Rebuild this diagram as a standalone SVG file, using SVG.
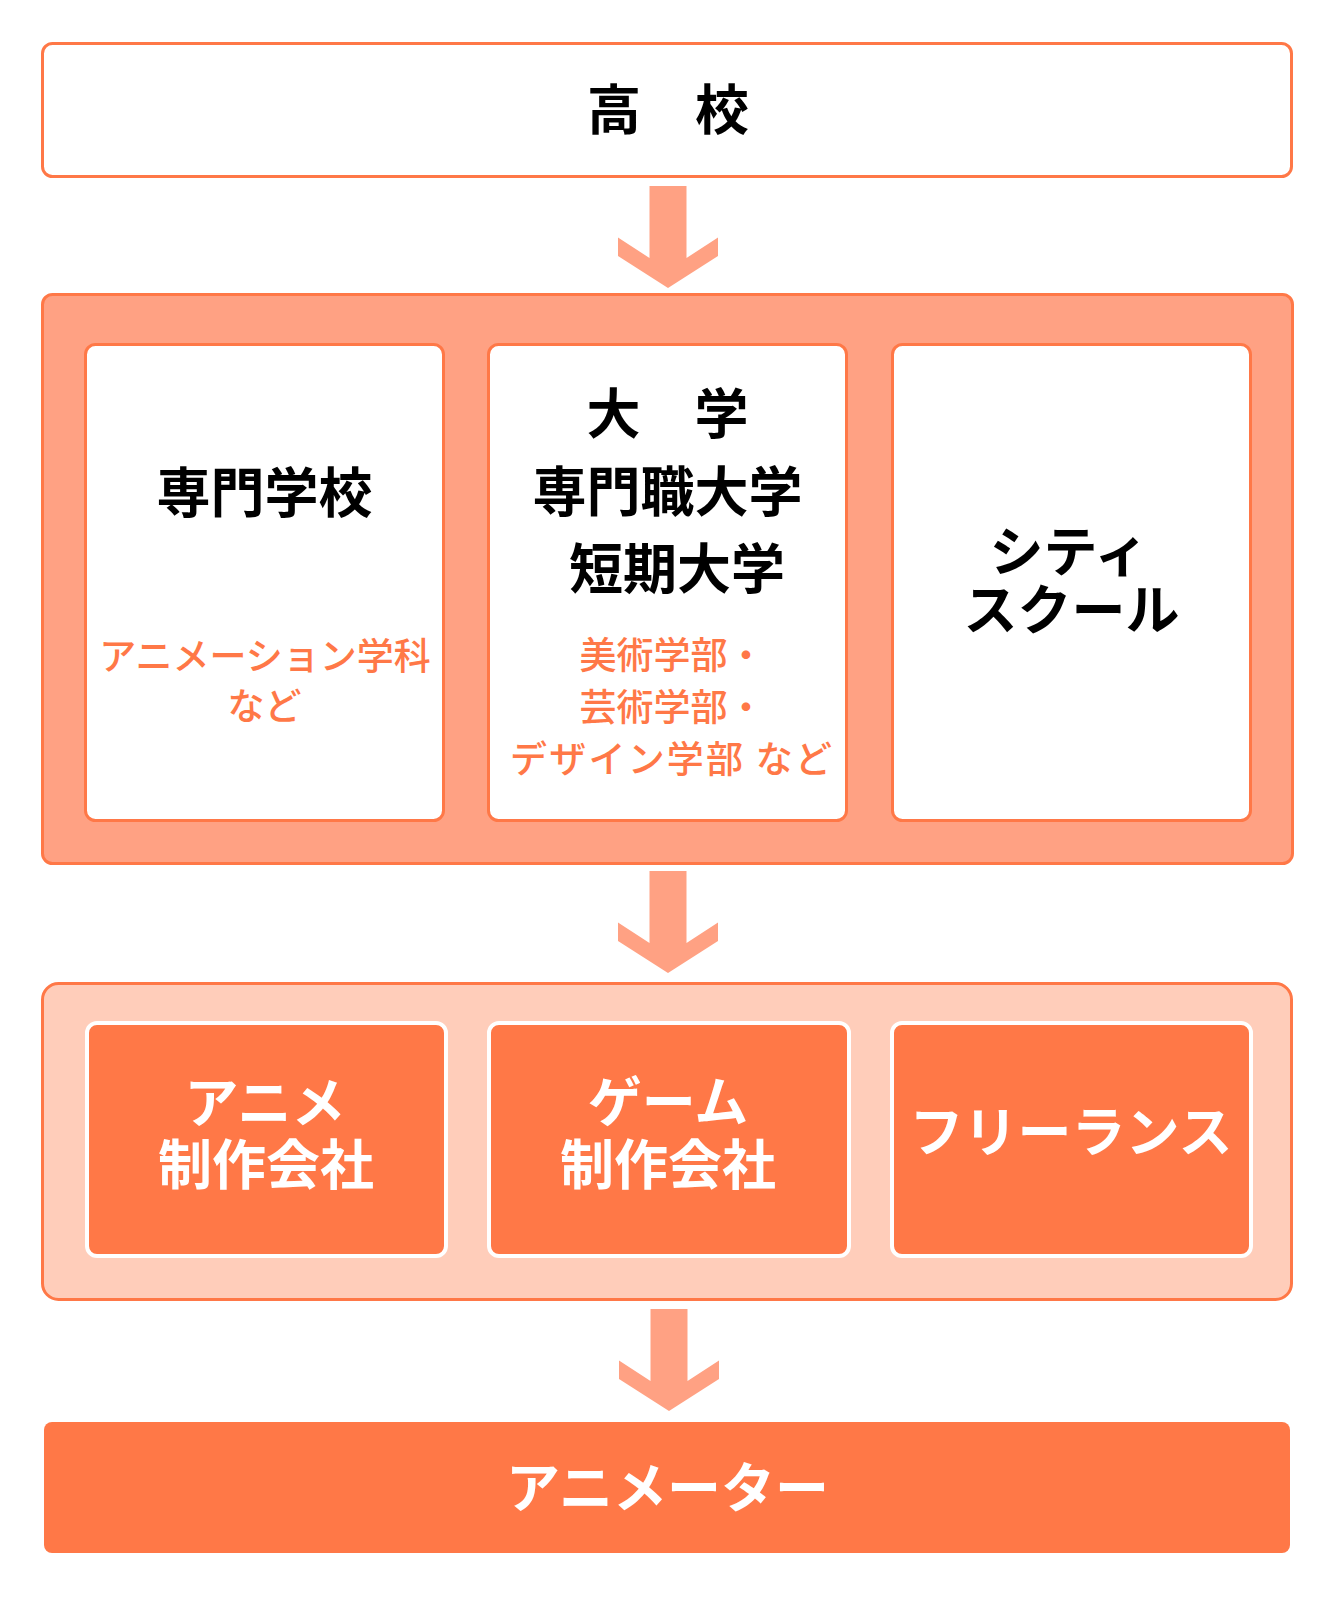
<svg xmlns="http://www.w3.org/2000/svg" width="1334" height="1600" viewBox="0 0 1334 1600">
  <style>
    text { font-family: "Noto Sans CJK JP", "Noto Sans", sans-serif; text-anchor: middle; }
    .title { font-size: 54px; font-weight: bold; fill: #000000; }
    .sub { font-size: 37px; font-weight: 500; fill: #FF7847; }
    .wtxt { font-size: 54px; font-weight: bold; fill: #FFFFFF; }
    .outline { fill: #FFFFFF; stroke: #FF7847; stroke-width: 3; }
    .col { fill: #FFFFFF; stroke: #FF7847; stroke-width: 3; }
    .job { fill: #FF7847; stroke: #FFFFFF; stroke-width: 4; }
    .arrow { fill: #FFA183; }
  </style>
  <defs>
    <polygon id="arrowShape" class="arrow" points="649.5,0 686.5,0 686.5,72 718,51.5 718,70 668,102 618,70 618,51.5 649.5,72"/>
  </defs>

  <g id="connectors">
    <use href="#arrowShape" transform="translate(0,186)"/>
    <use href="#arrowShape" transform="translate(0,871)"/>
    <use href="#arrowShape" transform="translate(1,1309)"/>
  </g>

  <g id="node-koukou">
    <rect class="outline" x="42.5" y="43.5" width="1249" height="133" rx="10"/>
    <text class="title" x="668" y="130" font-size="53">高　校</text>
  </g>

  <g id="group-schools">
    <rect x="42.5" y="294.5" width="1250" height="569" rx="10" fill="#FFA183" stroke="#FF7847" stroke-width="3"/>
  </g>

  <g id="node-senmon">
    <rect class="col" x="85.5" y="344.5" width="358" height="476" rx="10"/>
    <text class="title" x="264.5" y="513">専門学校</text>
    <text class="sub" x="265" y="670">アニメーション学科</text>
    <text class="sub" x="264.5" y="720">など</text>
  </g>

  <g id="node-daigaku">
    <rect class="col" x="488.5" y="344.5" width="358" height="476" rx="10"/>
    <text class="title" x="667.5" y="434">大　学</text>
    <text class="title" x="667.5" y="512">専門職大学</text>
    <text class="title" x="677" y="589">短期大学</text>
    <text class="sub" x="672" y="669">美術学部・</text>
    <text class="sub" x="672" y="721">芸術学部・</text>
    <text class="sub" x="671" y="773" textLength="322" lengthAdjust="spacing">デザイン学部 など</text>
  </g>

  <g id="node-city">
    <rect class="col" x="892.5" y="344.5" width="358" height="476" rx="10"/>
    <text class="title" x="1069" y="572">シティ</text>
    <text class="title" x="1071.5" y="630">スクール</text>
  </g>

  <g id="group-companies">
    <rect x="42.5" y="983.5" width="1249" height="316" rx="16" fill="#FFCDBA" stroke="#FF7847" stroke-width="3"/>
  </g>

  <g id="node-anime-company">
    <rect class="job" x="87" y="1023" width="359" height="233" rx="10"/>
    <text class="wtxt" x="265" y="1123">アニメ</text>
    <text class="wtxt" x="266" y="1185">制作会社</text>
  </g>

  <g id="node-game-company">
    <rect class="job" x="489" y="1023" width="360" height="233" rx="10"/>
    <text class="wtxt" x="668" y="1122">ゲーム</text>
    <text class="wtxt" x="668" y="1185">制作会社</text>
  </g>

  <g id="node-freelance">
    <rect class="job" x="892" y="1023" width="359" height="233" rx="10"/>
    <text class="wtxt" x="1071" y="1152" font-size="52">フリーランス</text>
  </g>

  <g id="node-animator">
    <rect x="44" y="1422" width="1246" height="131" rx="8" fill="#FF7847"/>
    <text class="wtxt" x="667.5" y="1508">アニメーター</text>
  </g>
</svg>
